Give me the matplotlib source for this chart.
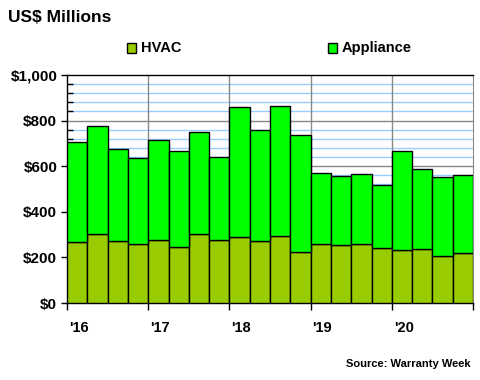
import numpy as np
import matplotlib
matplotlib.use("Agg")
import matplotlib.pyplot as plt
import matplotlib.transforms as mtrans
from matplotlib.patches import Rectangle

# quarterly warranty claims, 2016 Q1 .. 2020 Q4 (US$ millions)
quarters = ["16Q1", "16Q2", "16Q3", "16Q4", "17Q1", "17Q2", "17Q3", "17Q4",
            "18Q1", "18Q2", "18Q3", "18Q4", "19Q1", "19Q2", "19Q3", "19Q4",
            "20Q1", "20Q2", "20Q3", "20Q4"]
hvac = [267, 304, 272, 260, 276, 245, 304, 276,
        289, 272, 293, 223, 258, 254, 258, 241,
        232, 236, 206, 219]
total = [705, 775, 674, 635, 715, 667, 749, 639,
         858, 758, 863, 736, 569, 558, 565, 517,
         666, 587, 552, 561]
appliance = [t - h for t, h in zip(total, hvac)]
year_labels = ["'16", "'17", "'18", "'19", "'20"]

plt.rcParams["font.family"] = ["Liberation Sans", "DejaVu Sans"]
plt.rcParams["font.weight"] = "bold"

fig = plt.figure(figsize=(4.8, 3.8), dpi=100)
ax = fig.add_axes([67 / 480, 77 / 380, 406 / 480, 228 / 380])

x = np.arange(len(quarters)) + 0.5
ax.bar(x, hvac, width=1.0, color="#99cc00", edgecolor="black", linewidth=1, zorder=3)
ax.bar(x, appliance, bottom=hvac, width=1.0, color="#00ff00", edgecolor="black",
       linewidth=1, zorder=3)

ax.set_xlim(0, len(quarters))
ax.set_ylim(0, 1000)

# gridlines: light blue every 40, gray every 200, gray at year boundaries
for v in np.arange(40, 1000, 40):
    col = "#888888" if v % 200 == 0 else "#99ccff"
    ax.axhline(v, color=col, lw=1, zorder=1)
for xb in range(4, len(quarters), 4):
    ax.axvline(xb, color="#888888", lw=1, zorder=1)

ax.set_yticks(np.arange(0, 1001, 200))
ax.set_yticklabels(["$0", "$200", "$400", "$600", "$800", "$1,000"], fontsize=11,
                   fontweight="bold")
ax.set_yticks(np.arange(0, 1001, 40), minor=True)
ax.tick_params(axis="y", which="major", direction="out", length=4, width=1, pad=3)
ax.tick_params(axis="y", which="minor", direction="in", length=4, width=1)

ax.set_xticks(range(0, len(quarters) + 1, 4))
ax.set_xticklabels(year_labels + [""], fontsize=10.5, fontweight="bold", ha="left")
ax.tick_params(axis="x", which="major", direction="out", length=5, width=1, pad=8)
offset = mtrans.ScaledTranslation(2 / 100, 0, fig.dpi_scale_trans)
for lab in ax.get_xticklabels():
    lab.set_transform(lab.get_transform() + offset)

for s in ["left", "bottom", "top"]:
    ax.spines[s].set_color("black")
    ax.spines[s].set_linewidth(1)
ax.spines["right"].set_color("#888888")

# title and legend
fig.text(8 / 480, 1 - 18 / 380, "US$ Millions", fontsize=12.5, fontweight="bold",
         va="center", ha="left")
for px, lab, col in [(127, "HVAC", "#99cc00"), (328, "Appliance", "#00ff00")]:
    fig.patches.append(Rectangle((px / 480, 1 - 53 / 380), 9 / 480, 10 / 380,
                                 transform=fig.transFigure, facecolor=col,
                                 edgecolor="black", lw=1))
    fig.text((px + 14) / 480, 1 - 48 / 380, lab, fontsize=10.5, fontweight="bold",
             va="center", ha="left")

fig.text(471 / 480, 1 - 364 / 380, "Source: Warranty Week", fontsize=8,
         fontweight="bold", ha="right", va="center")

fig.savefig("out.png", dpi=100)
